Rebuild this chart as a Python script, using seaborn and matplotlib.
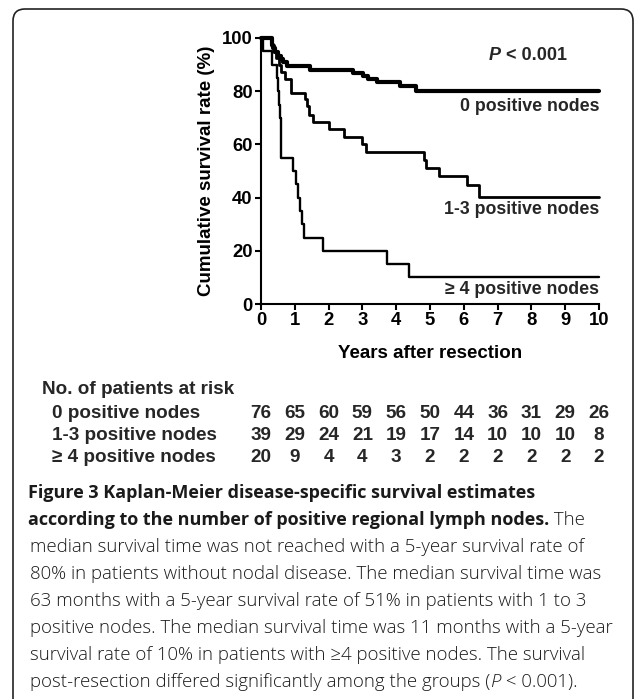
import matplotlib
matplotlib.use('Agg')
import matplotlib.pyplot as plt
import matplotlib.transforms as mtransforms
from matplotlib.patches import FancyBboxPatch
import seaborn as sns
import pandas as pd

# Kaplan-Meier steps (years, survival %)
t_0 = [0, 0.32, 0.36, 0.42, 0.5, 0.58, 0.66, 0.78, 1.45, 2.73, 3.03, 3.18, 3.42, 4.1, 4.58, 10]
s_0 = [100, 97.4, 96.1, 94.7, 93.4, 92.1, 90.8, 89.3, 88.0, 86.7, 85.6, 84.6, 83.6, 81.8, 80.0, 80.0]

t_13 = [0, 0.3, 0.38, 0.45, 0.52, 0.6, 0.7, 0.88, 1.3, 1.36, 1.42, 1.55, 2.0, 2.47, 2.98, 3.1,
        4.82, 4.88, 5.27, 6.1, 6.45, 10]
s_13 = [100, 97.4, 94.9, 92.3, 89.7, 87.2, 84.6, 79.5, 76.9, 74.4, 71.1, 68.5, 65.8, 62.8, 60.0, 57.1,
        54.3, 51.1, 48.0, 44.8, 40.4, 40.4]

t_4 = [0, 0.07, 0.32, 0.46, 0.5, 0.53, 0.56, 0.6, 0.94, 1.03, 1.1, 1.15, 1.2, 1.27, 1.82, 3.72, 4.38, 10]
s_4 = [100, 95, 90, 85, 80, 75, 70, 55, 50, 45, 40, 35, 30, 25, 20, 15, 10, 10]

groups = ['0 positive nodes', '1-3 positive nodes', '\u2265 4 positive nodes']
years = list(range(0, 11))
risk_0 = [76, 65, 60, 59, 56, 50, 44, 36, 31, 29, 26]
risk_13 = [39, 29, 24, 21, 19, 17, 14, 10, 10, 10, 8]
risk_4 = [20, 9, 4, 4, 3, 2, 2, 2, 2, 2, 2]

caption_bold = ['Figure 3 Kaplan-Meier disease-specific survival estimates',
                'according to the number of positive regional lymph nodes.']
caption_lines = [
    'median survival time was not reached with a 5-year survival rate of',
    '80% in patients without nodal disease. The median survival time was',
    '63 months with a 5-year survival rate of 51% in patients with 1 to 3',
    'positive nodes. The median survival time was 11 months with a 5-year',
    'survival rate of 10% in patients with \u22654 positive nodes. The survival',
    'post-resection differed significantly among the groups (',
]

sns.set_theme(style='ticks')
plt.rcParams['font.family'] = ['Liberation Sans', 'DejaVu Sans']
plt.rcParams['font.weight'] = 'bold'

W, H = 634, 699
fig = plt.figure(figsize=(W / 100, H / 100), dpi=100)
fig.patch.set_facecolor('white')
ax = fig.add_axes([261 / W, 1 - 304 / H, 338 / W, 266 / H])

curves = [(t_0, s_0, 3.0), (t_13, s_13, 2.0), (t_4, s_4, 1.7)]
for (t, s, lw), name in zip(curves, groups):
    df = pd.DataFrame({'time': t, 'surv': s})
    sns.lineplot(data=df, x='time', y='surv', drawstyle='steps-post', estimator=None,
                 sort=False, color='black', linewidth=lw, clip_on=False, ax=ax)

ax.set_xlim(0, 10)
ax.set_ylim(0, 100)
ax.set_xticks(range(0, 11))
ax.set_yticks(range(0, 101, 20))
sns.despine(ax=ax)
for sp in ['left', 'bottom']:
    ax.spines[sp].set_linewidth(1.5)
    ax.spines[sp].set_color('black')
ax.tick_params(direction='out', length=4, width=1.5, color='black', labelsize=13.3, pad=2,
               labelcolor='black')
ax.set_xlabel('Years after resection', fontsize=13.5, fontweight='bold', labelpad=11, color='black')
ax.set_ylabel('Cumulative survival rate (%)', fontsize=13.5, fontweight='bold', labelpad=5, color='black')

# curve labels
ax.text(10, 74.4, groups[0], ha='right', va='center', fontsize=12.8, fontweight='bold')
ax.text(10, 35.7, groups[1], ha='right', va='center', fontsize=12.8, fontweight='bold')
ax.text(10, 5.3, groups[2], ha='right', va='center', fontsize=12.8, fontweight='bold')
ax.text(7.1, 93.6, 'P', ha='right', va='center', fontsize=13, fontweight='bold', style='italic')
ax.text(7.1, 93.6, ' < 0.001', ha='left', va='center', fontsize=13, fontweight='bold')

# number at risk table
blend = mtransforms.blended_transform_factory(ax.transData, fig.transFigure)
fig.text(42 / W, 1 - 390 / H, 'No. of patients at risk', ha='left', va='center', fontsize=13.6)
for name, risk, y in zip(groups, [risk_0, risk_13, risk_4], [413, 436, 458]):
    fig.text(52 / W, 1 - y / H, name, ha='left', va='center', fontsize=13.6)
    for yr, n in zip(years, risk):
        ax.text(yr, 1 - y / H, str(n), transform=blend, ha='center', va='center', fontsize=13.6)

# caption
cap_font = ['Open Sans', 'DejaVu Sans']
cap_col = '#1a1a1a'
cap_size = 13.4
fig.text(28 / W, 1 - 493 / H, caption_bold[0], ha='left', va='center', fontsize=13,
         family=cap_font, fontweight='bold', color=cap_col)
b2 = fig.text(28 / W, 1 - 520 / H, caption_bold[1], ha='left', va='center', fontsize=13,
              family=cap_font, fontweight='bold', color=cap_col)
r = fig.canvas.get_renderer()
bb = b2.get_window_extent(renderer=r)
fig.text(bb.x1 / W, 1 - 520 / H, ' The', ha='left', va='center', fontsize=cap_size,
         family=cap_font, fontweight='light', color=cap_col)
for i, line in enumerate(caption_lines):
    y = 547 + 27 * i
    t = fig.text(30 / W, 1 - y / H, line, ha='left', va='center', fontsize=cap_size,
                 family=cap_font, fontweight='light', color=cap_col)
    if i == len(caption_lines) - 1:
        e = t.get_window_extent(renderer=r)
        tp = fig.text(e.x1 / W, 1 - y / H, 'P', ha='left', va='center', fontsize=cap_size,
                      family=cap_font, fontweight='light', style='italic', color=cap_col)
        e2 = tp.get_window_extent(renderer=r)
        fig.text(e2.x1 / W, 1 - y / H, ' < 0.001).', ha='left', va='center', fontsize=cap_size,
                 family=cap_font, fontweight='light', color=cap_col)

# rounded frame around the figure (open at the bottom)
frame = FancyBboxPatch((13, -30), 620, 720, boxstyle='round,pad=0,rounding_size=12',
                       transform=mtransforms.IdentityTransform(), fill=False,
                       edgecolor='#222222', linewidth=1.2)
fig.add_artist(frame)

fig.savefig('out.png', dpi=100)
